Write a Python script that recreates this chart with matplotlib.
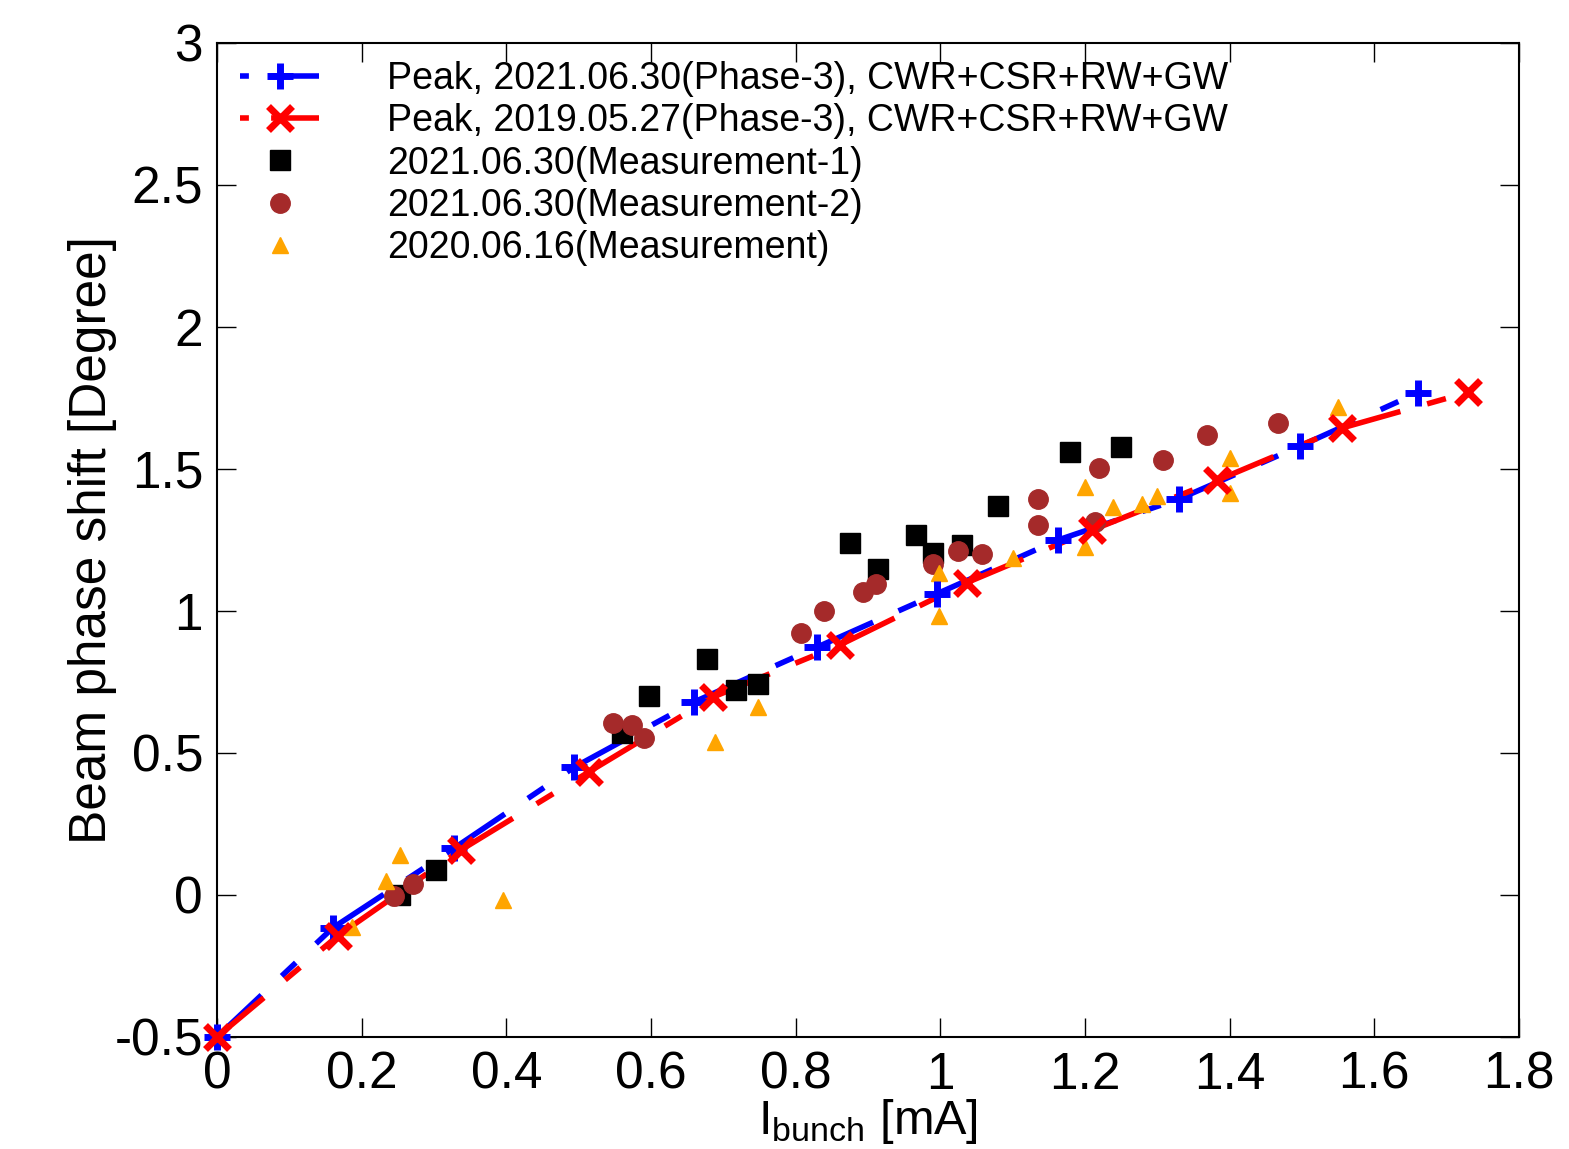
import matplotlib
matplotlib.use("Agg")
import matplotlib.pyplot as plt
from matplotlib.lines import Line2D

# simulated peak phase shift, 2021.06.30
i_2021 = [0.0, 0.16, 0.328, 0.494, 0.66, 0.83, 0.995, 1.163, 1.33, 1.497, 1.66]
y_2021 = [-0.5, -0.116, 0.165, 0.45, 0.68, 0.873, 1.06, 1.25, 1.394, 1.58, 1.768]

# simulated peak phase shift, 2019.05.27
i_2019 = [0.0, 0.167, 0.337, 0.514, 0.686, 0.861, 1.037, 1.21, 1.383, 1.555, 1.73]
y_2019 = [-0.5, -0.144, 0.158, 0.433, 0.697, 0.88, 1.10, 1.285, 1.46, 1.644, 1.77]

# measurement 1 (2021.06.30)
i_m1 = [0.253, 0.303, 0.56, 0.597, 0.677, 0.717, 0.748, 0.875, 0.914, 0.966,
        0.99, 1.03, 1.08, 1.179, 1.25]
y_m1 = [0.0, 0.088, 0.57, 0.70, 0.83, 0.72, 0.743, 1.24, 1.148, 1.268,
        1.204, 1.232, 1.37, 1.56, 1.577]

# measurement 2 (2021.06.30)
i_m2 = [0.245, 0.271, 0.547, 0.574, 0.59, 0.807, 0.84, 0.893, 0.911, 0.99,
        1.025, 1.058, 1.135, 1.135, 1.214, 1.219, 1.308, 1.369, 1.467]
y_m2 = [-0.003, 0.039, 0.606, 0.599, 0.553, 0.922, 1.0, 1.067, 1.095, 1.165,
        1.211, 1.20, 1.394, 1.303, 1.313, 1.503, 1.53, 1.62, 1.662]

# measurement (2020.06.16)
i_m3 = [0.187, 0.234, 0.253, 0.395, 0.689, 0.748, 0.998, 0.998, 1.10, 1.20,
        1.20, 1.239, 1.279, 1.30, 1.40, 1.40, 1.55]
y_m3 = [-0.113, 0.049, 0.141, -0.018, 0.539, 0.662, 1.134, 0.982, 1.187, 1.437,
        1.225, 1.366, 1.377, 1.405, 1.539, 1.416, 1.718]

labels = ['Peak, 2021.06.30(Phase-3), CWR+CSR+RW+GW',
          'Peak, 2019.05.27(Phase-3), CWR+CSR+RW+GW',
          '2021.06.30(Measurement-1)',
          '2021.06.30(Measurement-2)',
          '2020.06.16(Measurement)']

plt.rcParams['font.family'] = ['Liberation Sans', 'DejaVu Sans']
plt.rcParams['mathtext.fontset'] = 'custom'
plt.rcParams['mathtext.rm'] = 'Liberation Sans'
plt.rcParams['mathtext.it'] = 'Liberation Sans'

fig = plt.figure(figsize=(15.69, 11.49), dpi=100)
ax = fig.add_axes([0.1383, 0.0975, 0.8297, 0.8651])

# gnuplot-like dash pattern, restarting at every data point
seg_dash = (0, (11, 5, 3.5, 5))
def dashed_path(xs, ys, color):
    for k in range(len(xs) - 1):
        ax.plot(xs[k:k + 2], ys[k:k + 2], color=color, lw=4,
                linestyle=seg_dash, solid_capstyle='butt', dash_capstyle='butt')

dashed_path(i_2021, y_2021, 'blue')
ax.plot(i_2021, y_2021, ls='none', marker='+', ms=19, mew=5, color='blue',
        clip_on=False, zorder=4)
dashed_path(i_2019, y_2019, 'red')
ax.plot(i_2019, y_2019, ls='none', marker='x', ms=17, mew=5, color='red',
        clip_on=False, zorder=4)

ax.plot(i_m1, y_m1, ls='none', marker='s', ms=14, color='black', zorder=3)
ax.plot(i_m2, y_m2, ls='none', marker='o', ms=14, color='#a52a2a', zorder=3)
ax.plot(i_m3, y_m3, ls='none', marker='^', ms=12, color='orange', zorder=3)

ax.set_xlim(0, 1.8)
ax.set_ylim(-0.5, 3)
ax.set_xticks([0, 0.2, 0.4, 0.6, 0.8, 1, 1.2, 1.4, 1.6, 1.8])
ax.set_xticklabels(['0', '0.2', '0.4', '0.6', '0.8', '1', '1.2', '1.4', '1.6', '1.8'])
ax.set_yticks([-0.5, 0, 0.5, 1, 1.5, 2, 2.5, 3])
ax.set_yticklabels(['-0.5', '0', '0.5', '1', '1.5', '2', '2.5', '3'])
ax.tick_params(direction='in', length=14, width=1, top=True, right=True,
               labelsize=37, pad=10)
for s in ax.spines.values():
    s.set_linewidth(1.5)

ax.set_xlabel(r'I$_{\mathrm{bunch}}$ [mA]', fontsize=35, labelpad=-2)
ax.set_ylabel('Beam phase shift [Degree]', fontsize=37, labelpad=-2)

hdash = (0, (1.6, 4, 12, 4))
handles = [
    Line2D([], [], color='blue', lw=4, linestyle=hdash, marker='+', ms=19, mew=5,
           dash_capstyle='butt'),
    Line2D([], [], color='red', lw=4, linestyle=hdash, marker='x', ms=17, mew=5,
           dash_capstyle='butt'),
    Line2D([], [], ls='none', marker='s', ms=14, color='black'),
    Line2D([], [], ls='none', marker='o', ms=14, color='#a52a2a'),
    Line2D([], [], ls='none', marker='^', ms=12, color='orange'),
]
ax.legend(handles, labels, loc='upper left', frameon=False, fontsize=27,
          handlelength=2.1, handletextpad=1.8, labelspacing=0.17,
          borderaxespad=0, borderpad=0, bbox_to_anchor=(0.018, 0.982))

fig.savefig('out.png', dpi=100)
